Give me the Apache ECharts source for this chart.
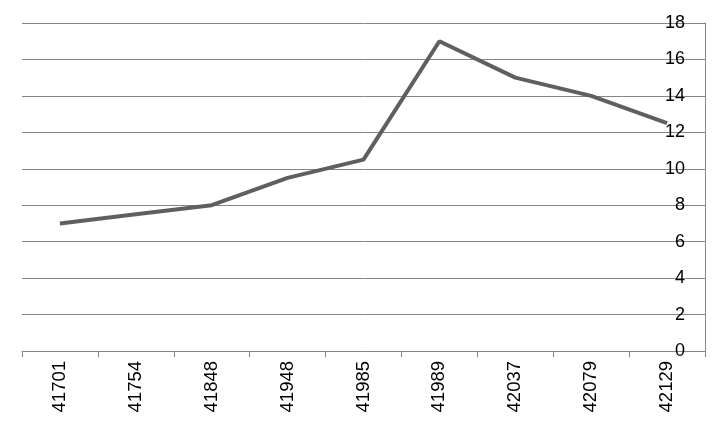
<!DOCTYPE html>
<html><head><meta charset="utf-8">
<script src="https://cdn.jsdelivr.net/npm/echarts@6/dist/echarts.min.js"></script>
<style>html,body{margin:0;padding:0;background:#fff}#c{width:728px;height:430px}</style>
</head><body><div id="c"></div>
<script>
var categories = ['41701','41754','41848','41948','41985','41989','42037','42079','42129'];
var values = [7, 7.5, 8, 9.5, 10.5, 17, 15, 14, 12.5];
var yTicks = {min: 0, max: 18, interval: 2};

var chart = echarts.init(document.getElementById('c'), null, {renderer: 'canvas'});
chart.setOption({
  animation: false,
  grid: {left: 22, right: 23, top: 23, bottom: 79, containLabel: false},
  xAxis: {
    type: 'category', data: categories, boundaryGap: true,
    axisLine: {lineStyle: {color: '#868686', width: 1}},
    axisTick: {show: true, length: 6, lineStyle: {color: '#868686'}},
    axisLabel: {rotate: 90, margin: 10, color: '#000', fontFamily: 'Liberation Sans, Arial', fontSize: 18.5}
  },
  yAxis: {
    type: 'value', position: 'right', min: yTicks.min, max: yTicks.max, interval: yTicks.interval,
    axisLine: {show: true, lineStyle: {color: '#868686', width: 1}},
    axisTick: {show: false},
    splitLine: {lineStyle: {color: '#868686', width: 1}},
    axisLabel: {inside: true, margin: 20, color: '#000', fontFamily: 'Liberation Sans Narrow, Liberation Sans, Arial', fontSize: 18}
  },
  series: [{
    type: 'line', data: values, symbol: 'none',
    lineStyle: {color: '#5f5f5f', width: 4}
  }]
});
</script></body></html>
